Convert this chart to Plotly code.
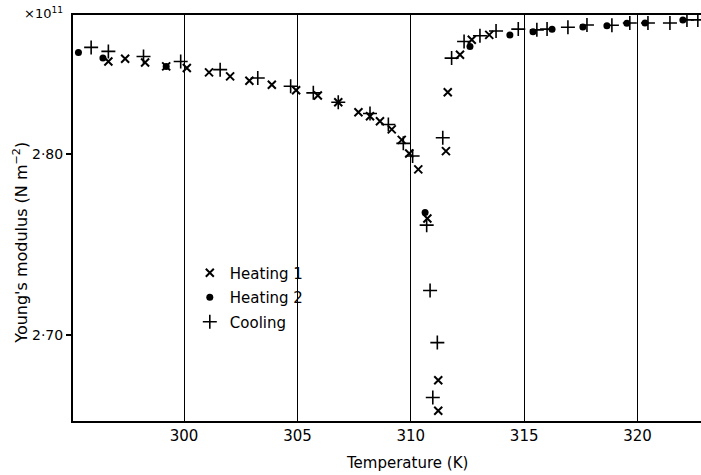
import plotly.graph_objects as go

# Heating 1 (x markers)
h1_T = [296.66, 297.40, 298.28, 299.21, 300.12, 301.10, 302.03, 302.88, 303.87, 304.94,
        305.90, 306.80, 307.69, 308.20, 308.64, 309.16, 309.60, 309.93, 310.33, 310.73,
        311.21, 311.21, 311.55, 311.63, 312.17, 312.69, 313.46]
h1_E = [2.8513, 2.8528, 2.8508, 2.8486, 2.8477, 2.8453, 2.8431, 2.8407, 2.8385, 2.8354,
        2.8325, 2.8288, 2.8233, 2.8211, 2.8183, 2.8138, 2.8080, 2.8005, 2.7917, 2.7646,
        2.6752, 2.6584, 2.8018, 2.8343, 2.8550, 2.8633, 2.8660]

# Heating 2 (dots)
h2_T = [295.34, 296.42, 299.21, 310.63, 312.61, 314.37, 315.39, 316.23, 317.59, 318.65,
        319.53, 320.33, 322.00]
h2_E = [2.8563, 2.8532, 2.8486, 2.7679, 2.8596, 2.8660, 2.8677, 2.8691, 2.8704, 2.8710,
        2.8724, 2.8726, 2.8743]

# Cooling (+ markers)
c_T = [295.90, 296.66, 298.21, 299.85, 301.59, 303.25, 304.70, 305.70, 306.80, 308.20,
       309.01, 309.67, 310.08, 310.70, 310.85, 311.17, 310.97, 311.41, 311.80, 312.35,
       313.05, 313.76, 314.74, 315.56, 316.01, 316.93, 317.77, 318.87, 319.66, 320.46,
       321.43, 322.18, 322.66]
c_E = [2.8591, 2.8569, 2.8541, 2.8513, 2.8468, 2.8422, 2.8376, 2.8340, 2.8288, 2.8226,
       2.8165, 2.8061, 2.7991, 2.7609, 2.7248, 2.6960, 2.6657, 2.8092, 2.8532, 2.8624,
       2.8655, 2.8682, 2.8692, 2.8688, 2.8692, 2.8702, 2.8715, 2.8713, 2.8726, 2.8726,
       2.8726, 2.8743, 2.8743]

x_ticks = [300, 305, 310, 315, 320]
y_ticks = [2.70, 2.80]
y_ticktext = ["2·70", "2·80"]

FONT = "'DejaVu Sans', sans-serif"

fig = go.Figure()
fig.add_trace(go.Scatter(
    x=h1_T, y=h1_E, mode="markers", name="Heating 1", legendgroup="a",
    marker=dict(symbol="x-thin", size=8, color="black", line=dict(width=2, color="black"))))
fig.add_trace(go.Scatter(
    x=h2_T, y=h2_E, mode="markers", name="Heating 2", legendgroup="b",
    marker=dict(symbol="circle", size=7, color="black")))
fig.add_trace(go.Scatter(
    x=c_T, y=c_E, mode="markers", name="Cooling", legendgroup="c",
    marker=dict(symbol="cross-thin", size=10, color="black", line=dict(width=1.6, color="black"))))

fig.update_layout(
    width=701, height=475,
    margin=dict(l=73, r=0, t=15, b=54),
    paper_bgcolor="white", plot_bgcolor="white",
    font=dict(family=FONT, size=15, color="black"),
    showlegend=True,
    legend=dict(x=0.186, y=0.405, xanchor="left", yanchor="top",
                bgcolor="rgba(0,0,0,0)", borderwidth=0,
                font=dict(size=15, family=FONT), tracegroupgap=2,
                itemwidth=30),
    xaxis=dict(range=[295.1, 322.8], tickvals=x_ticks, ticks="", automargin=False,
               showgrid=True, gridcolor="black", gridwidth=1.3,
               showline=True, linecolor="black", linewidth=2, mirror=True,
               zeroline=False, tickfont=dict(size=15)),
    yaxis=dict(range=[2.6527, 2.877], tickvals=y_ticks, ticktext=y_ticktext, automargin=False,
               ticks="outside", ticklen=5, tickcolor="black", tickwidth=1.5,
               showgrid=False, showline=True, linecolor="black", linewidth=2,
               zeroline=False, tickfont=dict(size=14)),
    annotations=[
        dict(text="×10<sup>11</sup>", x=0, y=1.0, xref="paper", yref="paper",
             xanchor="right", yanchor="middle", xshift=-8, yshift=2, showarrow=False,
             font=dict(size=13, family=FONT)),
        dict(text="Temperature (K)", x=0.532, y=0, xref="paper", yref="paper",
             xanchor="center", yanchor="middle", yshift=-42, showarrow=False,
             font=dict(size=15, family=FONT)),
        dict(text="Young's modulus (N m<sup>−2</sup>)", x=0, y=0.439, xref="paper", yref="paper",
             xanchor="center", yanchor="middle", xshift=-52, textangle=-90, showarrow=False,
             font=dict(size=16, family=FONT)),
    ],
)

post = ("document.body.style.margin='0';document.body.style.padding='0';"
        "document.body.style.overflow='hidden';"
        "document.documentElement.style.overflow='hidden';")
fig.write_html("out.html", post_script=post,
               config={"responsive": False, "displayModeBar": False})
